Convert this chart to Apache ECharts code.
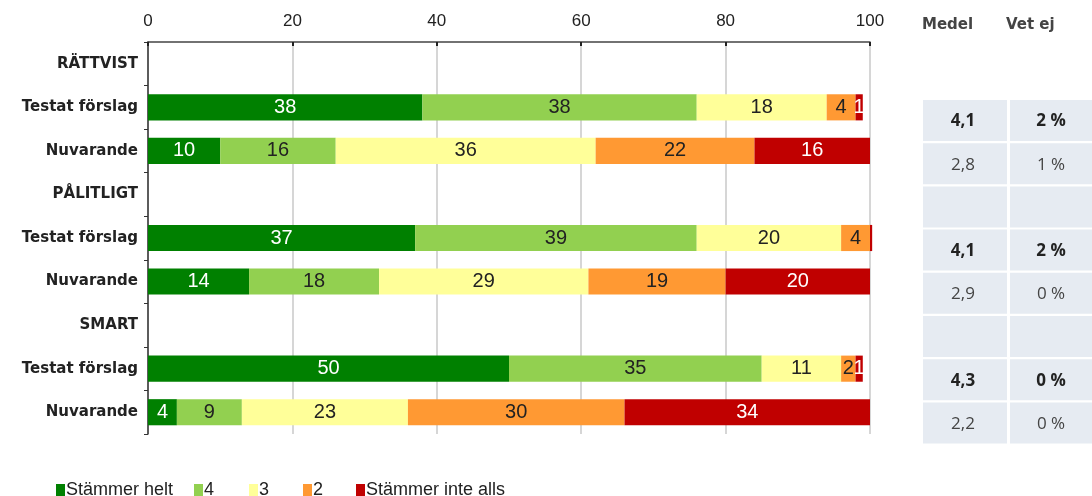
<!DOCTYPE html>
<html>
<head>
<meta charset="utf-8">
<script src="https://cdn.jsdelivr.net/npm/echarts@6/dist/echarts.min.js"></script>
<style>html,body{margin:0;padding:0;background:#fff}#c{width:1092px;height:496px}</style>
</head>
<body>
<div id="c"></div>
<script>
const categories = ['RÄTTVIST','Testat förslag','Nuvarande','PÅLITLIGT','Testat förslag','Nuvarande','SMART','Testat förslag','Nuvarande'];
const seriesNames = ['Stämmer helt','4','3','2','Stämmer inte alls'];
const s5 = [null,38,10,null,37,14,null,50,4];
const s4 = [null,38,16,null,39,18,null,35,9];
const s3 = [null,18,36,null,20,29,null,11,23];
const s2 = [null,4,22,null,4,19,null,2,30];
const s1 = [null,1,16,null,0.3,20,null,1,34];
const xTicks = [0,20,40,60,80,100];
const tableHeaders = ['Medel','Vet ej'];
const medel = ['4,1','2,8','','4,1','2,9','','4,3','2,2'];
const vetej = ['2 %','1 %','','2 %','0 %','','0 %','0 %'];
const boldRow = [true,false,false,true,false,false,true,false];

const colors = ['#008000','#92d050','#ffff99','#ff9933','#c00000'];
const labelColors = ['#ffffff','#222222','#222222','#222222','#ffffff'];
const allData = [s5,s4,s3,s2,s1];

const series = allData.map((d,i)=>({
  name: seriesNames[i],
  type: 'bar',
  stack: 'total',
  barWidth: '60%',
  clip: false,
  data: d,
  itemStyle: {color: colors[i]},
  label: {
    show: true,
    position: 'inside',
    color: labelColors[i],
    fontSize: 20,
    fontFamily: 'Liberation Sans',
    formatter: p => (p.value == null || p.value < 1) ? '' : String(p.value)
  }
}));

// table graphics
const graphic = [];
const colX = [923, 1010], colW = [84, 82];
const rowY0 = 100, rowH = 41, rowStep = 43.2;
tableHeaders.forEach((h,j)=>{
  graphic.push({type:'text', left: [922,1006][j], top: 18,
    style:{text:h, fontSize:15, fontFamily:'DejaVu Sans', fontWeight:'bold', fill:'#444'}});
});
medel.forEach((m,r)=>{
  const vals=[m, vetej[r]];
  vals.forEach((v,j)=>{
    graphic.push({type:'rect', shape:{x:colX[j], y:rowY0+r*rowStep, width:colW[j], height:rowH},
      style:{fill:'#e6ebf2'}});
    if (v) graphic.push({type:'text', x: colX[j]+colW[j]/2 + (j===0?-2:0), y: rowY0+r*rowStep+rowH/2 + 1,
      style:{text:v, fontSize:17, fontFamily:'Open Sans', fontWeight: boldRow[r]?'bold':'normal',
        fill: boldRow[r] ? '#222' : '#444', align:'center', verticalAlign:'middle'}});
  });
});

// one legend per item, so each sits where the reference places it
const legendLeft = [51, 189, 244, 298, 351];
const legends = seriesNames.map((n,i)=>({
  data: [n], left: legendLeft[i], top: 476,
  itemWidth: 9, itemHeight: 12, itemGap: 0, icon: 'rect',
  textStyle: {fontSize: 18, color: '#222', fontFamily: 'Liberation Sans', padding:[0,0,0,-4]}
}));

const chart = echarts.init(document.getElementById('c'));
chart.setOption({
  animation: false,
  textStyle: {fontFamily: 'Liberation Sans'},
  grid: {left: 148, right: 222, top: 42, bottom: 62},
  legend: legends,
  xAxis: {
    type: 'value', position: 'top', min: 0, max: 100, interval: 20,
    axisLine: {show: true, lineStyle: {color: '#444', width: 1.5}},
    axisTick: {show: true, inside: true, length: 4, lineStyle: {color: '#222', width: 2}},
    axisLabel: {fontSize: 17, color: '#222', margin: 12,
      formatter: v => xTicks.indexOf(v) >= 0 ? String(v) : ''},
    splitLine: {show: true, lineStyle: {color: '#d6d6d6', width: 2}}
  },
  yAxis: {
    type: 'category', inverse: true, data: categories,
    axisLine: {show: true, lineStyle: {color: '#333', width: 1.5}},
    axisTick: {show: true, length: 4, lineStyle: {color: '#333'}},
    axisLabel: {fontSize: 15, color: '#222', fontWeight: 'bold', margin: 10, fontFamily: 'DejaVu Sans'}
  },
  series: series,
  graphic: graphic
});
</script>
</body>
</html>
